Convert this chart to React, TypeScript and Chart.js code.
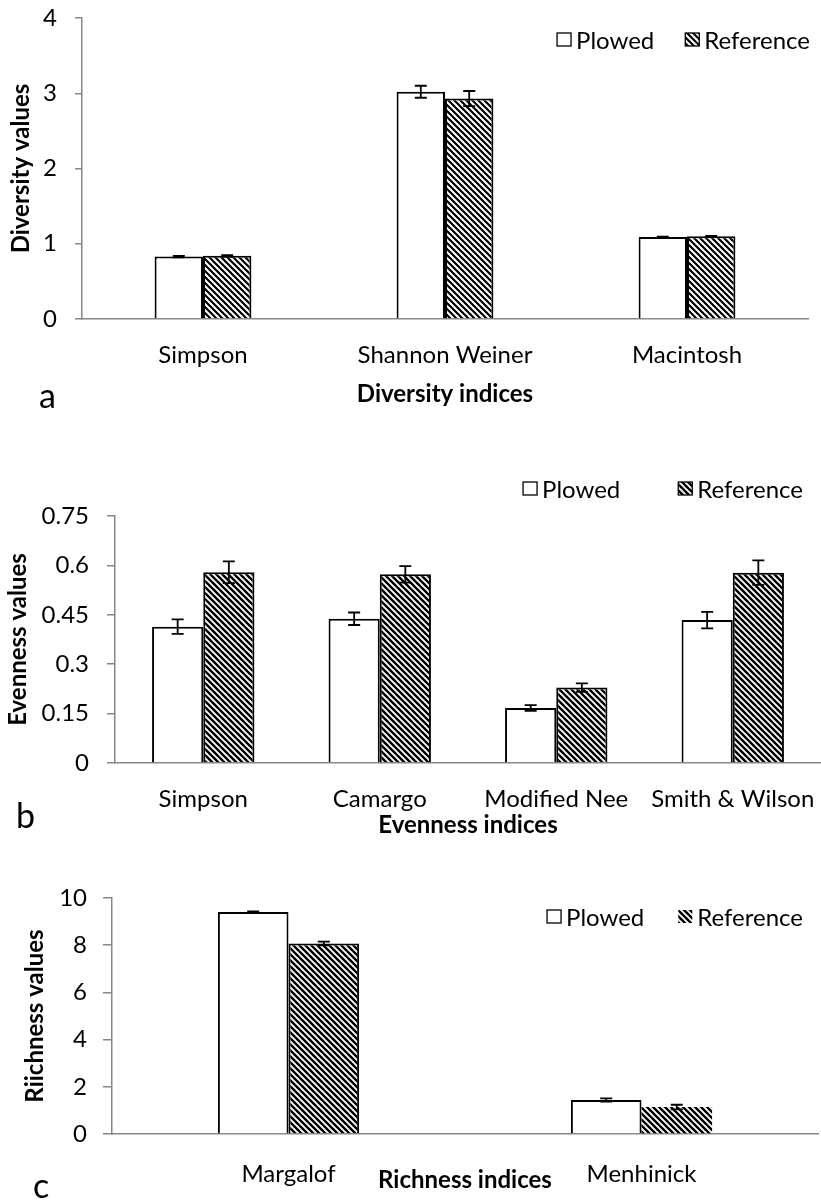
import React, { useEffect, useRef } from "react";
import { Chart, registerables } from "chart.js";

Chart.register(...registerables);

const seriesNames = ["Plowed", "Reference"];

const diversityCategories = ["Simpson", "Shannon Weiner", "Macintosh"];
const diversityPlowed = [0.83, 3.02, 1.09];
const diversityPlowedErr = [0.01, 0.08, 0.005];
const diversityReference = [0.84, 2.93, 1.1];
const diversityReferenceErr = [0.01, 0.1, 0.005];
const diversityTicks = ["0", "1", "2", "3", "4"];

const evennessCategories = ["Simpson", "Camargo", "Modified Nee", "Smith & Wilson"];
const evennessPlowed = [0.414, 0.438, 0.167, 0.434];
const evennessPlowedErr = [0.022, 0.019, 0.009, 0.025];
const evennessReference = [0.579, 0.573, 0.229, 0.578];
const evennessReferenceErr = [0.033, 0.025, 0.013, 0.037];
const evennessTicks = ["0", "0.15", "0.3", "0.45", "0.6", "0.75"];

const richnessCategories = ["Margalof", "Menhinick"];
const richnessPlowed = [9.41, 1.44];
const richnessPlowedErr = [0.02, 0.07];
const richnessReference = [8.07, 1.14];
const richnessReferenceErr = [0.08, 0.1];
const richnessTicks = ["0", "2", "4", "6", "8", "10"];

const FONT = "Lato";
const AXIS_GREY = "#868686";

function makeStripes(size: number, lw: number) {
  const c = document.createElement("canvas");
  c.width = size;
  c.height = size;
  const g = c.getContext("2d")!;
  g.fillStyle = "#fff";
  g.fillRect(0, 0, size, size);
  g.strokeStyle = "#000";
  g.lineWidth = lw;
  g.beginPath();
  for (let k = -2; k <= 2; k++) {
    g.moveTo(k * size - size, -size);
    g.lineTo(k * size + 2 * size, 2 * size);
  }
  g.stroke();
  return g.createPattern(c, "repeat")!;
}

const errorBarPlugin = {
  id: "errorBars",
  afterDatasetsDraw(chart: any) {
    const ctx = chart.ctx;
    const yScale = chart.scales.y;
    chart.data.datasets.forEach((ds: any, i: number) => {
      const errs = ds.errors;
      if (!errs) return;
      const meta = chart.getDatasetMeta(i);
      meta.data.forEach((el: any, j: number) => {
        const v = ds.data[j];
        const e = errs[j];
        const x = el.x;
        const yT = yScale.getPixelForValue(v + e);
        const yB = yScale.getPixelForValue(v - e);
        const cap = 6;
        ctx.save();
        ctx.strokeStyle = "#000";
        ctx.lineWidth = 1.8;
        ctx.beginPath();
        ctx.moveTo(x, yT);
        ctx.lineTo(x, yB);
        ctx.moveTo(x - cap, yT);
        ctx.lineTo(x + cap, yT);
        ctx.moveTo(x - cap, yB);
        ctx.lineTo(x + cap, yB);
        ctx.stroke();
        ctx.restore();
      });
    });
  },
};

const cornerLegendPlugin = {
  id: "cornerLegend",
  afterDraw(chart: any, _args: any, opts: any) {
    const ctx = chart.ctx;
    ctx.save();
    ctx.font = `24px ${FONT}`;
    ctx.textBaseline = "middle";
    ctx.textAlign = "left";
    const box = 14;
    const boxGap = 5;
    const items = chart.data.datasets.map((ds: any) => ({
      label: ds.label,
      fill: ds.backgroundColor,
      border: ds.legendBorder !== false,
      w: box + boxGap + ctx.measureText(ds.label).width,
    }));
    const total = items.reduce((s: number, it: any) => s + it.w, 0) + opts.gap * (items.length - 1);
    let x = opts.right - total;
    const y = opts.y;
    items.forEach((it: any) => {
      ctx.fillStyle = it.fill;
      ctx.fillRect(x, y - box / 2, box, box - 1);
      if (it.border) {
        ctx.strokeStyle = "#000";
        ctx.lineWidth = 1.3;
        ctx.strokeRect(x, y - box / 2, box, box - 1);
      }
      ctx.fillStyle = "#000";
      ctx.fillText(it.label, x + box + boxGap, y + 1);
      x += it.w + opts.gap;
    });
    ctx.restore();
  },
};

type Spec = {
  categories: string[];
  plowed: number[];
  plowedErr: number[];
  reference: number[];
  referenceErr: number[];
  ticks: string[];
  yMax: number;
  yStep: number;
  yTitle: string;
  xTitle: string;
  height: number;
  padTop: number;
  padRight: number;
  yWidth: number;
  xHeight: number;
  xTickPad: number;
  xTitlePadBottom: number;
  yTitlePadTop: number;
  yTickPad: number;
  tickLen: number;
  catPct: number;
  refBorder: number[];
  legend: { right: number; y: number; gap: number };
  legendBorder: boolean;
  stripe: [number, number];
};

function BarPanel({ spec, top }: { spec: Spec; top: number }) {
  const ref = useRef<HTMLCanvasElement | null>(null);
  useEffect(() => {
    if (!ref.current) return;
    const pattern = makeStripes(spec.stripe[0], spec.stripe[1]);
    const chart = new Chart(ref.current, {
      type: "bar",
      data: {
        labels: spec.categories,
        datasets: [
          {
            label: seriesNames[0],
            data: spec.plowed,
            errors: spec.plowedErr,
            backgroundColor: "#ffffff",
            borderColor: "#000",
            borderWidth: 2,
            categoryPercentage: spec.catPct,
            barPercentage: 1,
          } as any,
          {
            label: seriesNames[1],
            data: spec.reference,
            errors: spec.referenceErr,
            backgroundColor: pattern,
            borderColor: "#000",
            borderWidth: spec.refBorder,
            legendBorder: spec.legendBorder,
            categoryPercentage: spec.catPct,
            barPercentage: 1,
          } as any,
        ],
      },
      options: {
        responsive: false,
        animation: false,
        events: [],
        layout: { padding: { top: spec.padTop, right: spec.padRight, left: 0, bottom: 0 } },
        plugins: {
          legend: { display: false },
          tooltip: { enabled: false },
          cornerLegend: spec.legend,
        } as any,
        scales: {
          x: {
            grid: { display: false },
            border: { display: true, color: AXIS_GREY, width: 1.5 },
            ticks: {
              color: "#000",
              font: { family: FONT, size: 24 },
              padding: spec.xTickPad,
              maxRotation: 0,
              minRotation: 0,
              autoSkip: false,
            },
            title: {
              display: true,
              text: spec.xTitle,
              color: "#000",
              font: { family: FONT, size: 24, weight: "bold" },
              padding: { top: 0, bottom: spec.xTitlePadBottom },
            },
            afterFit: (s: any) => {
              s.height = spec.xHeight;
              s.paddingLeft = 0;
              s.paddingRight = 0;
            },
          },
          y: {
            min: 0,
            max: spec.yMax,
            grid: {
              display: true,
              drawOnChartArea: false,
              drawTicks: true,
              tickLength: spec.tickLen,
              color: AXIS_GREY,
              lineWidth: 1.5,
            },
            border: { display: true, color: AXIS_GREY, width: 1.5 },
            ticks: {
              stepSize: spec.yStep,
              color: "#000",
              font: { family: FONT, size: 24 },
              padding: spec.yTickPad,
              callback: (_v: any, i: number) => spec.ticks[i],
            },
            title: {
              display: true,
              text: spec.yTitle,
              color: "#000",
              font: { family: FONT, size: 24, weight: "bold" },
              padding: { top: spec.yTitlePadTop, bottom: 0 },
            },
            afterFit: (s: any) => {
              s.width = spec.yWidth;
              s.paddingTop = 0;
              s.paddingBottom = 0;
            },
          },
        },
      },
      plugins: [errorBarPlugin, cornerLegendPlugin],
    } as any);
    return () => chart.destroy();
  }, [spec]);
  return (
    <canvas
      ref={ref}
      width={821}
      height={spec.height}
      style={{ position: "absolute", left: 0, top, width: 821, height: spec.height, display: "block" }}
    />
  );
}

const specA: Spec = {
  categories: diversityCategories,
  plowed: diversityPlowed,
  plowedErr: diversityPlowedErr,
  reference: diversityReference,
  referenceErr: diversityReferenceErr,
  ticks: diversityTicks,
  yMax: 4,
  yStep: 1,
  yTitle: "Diversity values",
  xTitle: "Diversity indices",
  height: 412,
  padTop: 18,
  padRight: 13,
  yWidth: 82,
  xHeight: 93,
  xTickPad: 14,
  xTitlePadBottom: 3,
  yTitlePadTop: 7,
  yTickPad: 18,
  tickLen: 7,
  catPct: 0.4,
  refBorder: [2, 2, 2],
  legend: { right: 810, y: 40, gap: 31 },
  legendBorder: true,
  stripe: [6, 2.2],
};

const specB: Spec = {
  categories: evennessCategories,
  plowed: evennessPlowed,
  plowedErr: evennessPlowedErr,
  reference: evennessReference,
  referenceErr: evennessReferenceErr,
  ticks: evennessTicks,
  yMax: 0.75,
  yStep: 0.15,
  yTitle: "Evenness values",
  xTitle: "Evenness indices",
  height: 438,
  padTop: 104,
  padRight: 0,
  yWidth: 115,
  xHeight: 87,
  xTickPad: 14,
  xTitlePadBottom: 10,
  yTitlePadTop: 4,
  yTickPad: 18,
  tickLen: 8,
  catPct: 0.58,
  refBorder: [2, 2, 2, 2],
  legend: { right: 803, y: 77, gap: 58 },
  legendBorder: true,
  stripe: [6, 2.4],
};

const specC: Spec = {
  categories: richnessCategories,
  plowed: richnessPlowed,
  plowedErr: richnessPlowedErr,
  reference: richnessReference,
  referenceErr: richnessReferenceErr,
  ticks: richnessTicks,
  yMax: 10,
  yStep: 2,
  yTitle: "Riichness values",
  xTitle: "Richness indices",
  height: 350,
  padTop: 48,
  padRight: 3,
  yWidth: 112,
  xHeight: 66,
  xTickPad: 18,
  xTitlePadBottom: 5,
  yTitlePadTop: 21,
  yTickPad: 16,
  tickLen: 9,
  catPct: 0.4,
  refBorder: [2, 0],
  legend: { right: 803, y: 67, gap: 34 },
  legendBorder: false,
  stripe: [6, 2.4],
};

const letterStyle = (left: number, top: number): React.CSSProperties => ({
  position: "absolute",
  left,
  top,
  fontFamily: FONT,
  fontSize: 34,
  lineHeight: 1,
  color: "#000",
});

export default function App() {
  return (
    <div style={{ position: "absolute", left: 0, top: 0, width: 821, height: 1200, background: "#fff", overflow: "hidden" }}>
      <BarPanel spec={specA} top={0} />
      <BarPanel spec={specB} top={412} />
      <BarPanel spec={specC} top={850} />
      <div style={letterStyle(39, 378)}>a</div>
      <div style={letterStyle(16, 798)}>b</div>
      <div style={letterStyle(33, 1168)}>c</div>
    </div>
  );
}
